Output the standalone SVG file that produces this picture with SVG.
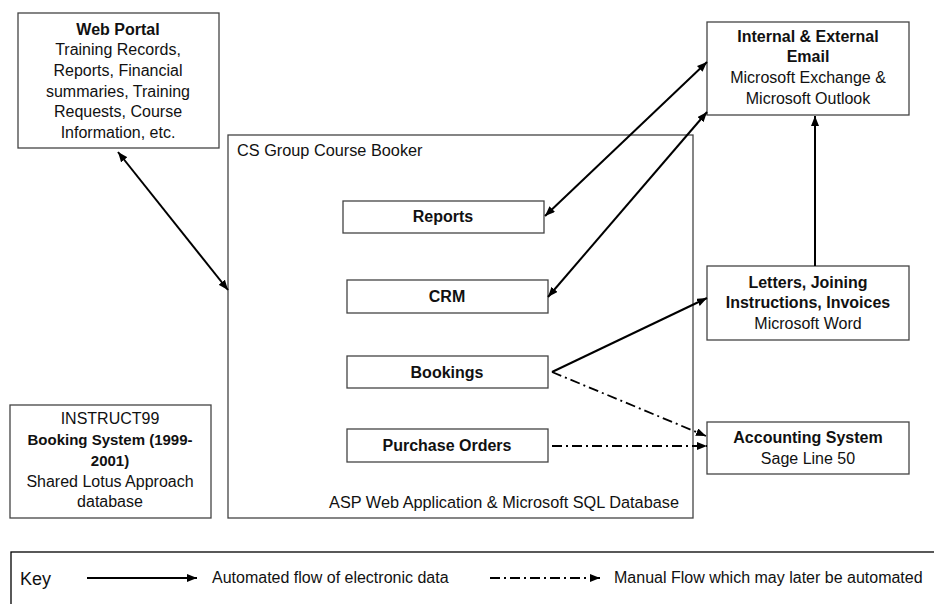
<svg xmlns="http://www.w3.org/2000/svg" width="934" height="604" viewBox="0 0 934 604">
<defs>
<style>
.box{fill:#fff;stroke:#444;stroke-width:1.3}
.t{font-family:"Liberation Sans",Arial,sans-serif;font-size:16px;fill:#111;text-anchor:middle}
.b{font-weight:bold}
.l{text-anchor:start}
.s{fill:none;stroke:#000;stroke-width:2}
.d{fill:none;stroke:#000;stroke-width:1.8;stroke-dasharray:10 4 2 4}
</style>
<marker id="ah" viewBox="0 0 10 8" refX="10" refY="4" markerWidth="10" markerHeight="8" markerUnits="userSpaceOnUse" orient="auto-start-reverse">
<path d="M0,0 L10,4 L0,8 Z" fill="#000"/>
</marker>
</defs>
<rect width="934" height="604" fill="#fff"/>

<g id="container">
<rect class="box" x="228" y="135" width="465" height="383"/>
<text class="t l" x="237" y="156" style="font-size:16.3px">CS Group Course Booker</text>
<text class="t" x="504" y="508" style="font-size:16.3px">ASP Web Application &amp; Microsoft SQL Database</text>
</g>

<g id="web-portal">
<rect class="box" x="18" y="13" width="201" height="135"/>
<text class="t b" x="118" y="35">Web Portal</text>
<text class="t" x="118" y="55">Training Records,</text>
<text class="t" x="118" y="76">Reports, Financial</text>
<text class="t" x="118" y="97">summaries, Training</text>
<text class="t" x="118" y="117">Requests, Course</text>
<text class="t" x="118" y="138">Information, etc.</text>
</g>

<g id="email">
<rect class="box" x="707" y="22" width="202" height="93"/>
<text class="t b" x="808" y="42">Internal &amp; External</text>
<text class="t b" x="808" y="62">Email</text>
<text class="t" x="808" y="83">Microsoft Exchange &amp;</text>
<text class="t" x="808" y="104">Microsoft Outlook</text>
</g>

<g id="reports">
<rect class="box" x="343" y="201" width="201" height="32"/>
<text class="t b" x="443" y="222">Reports</text>
</g>

<g id="crm">
<rect class="box" x="347" y="280" width="201" height="33"/>
<text class="t b" x="447" y="302">CRM</text>
</g>

<g id="bookings">
<rect class="box" x="347" y="356" width="201" height="32"/>
<text class="t b" x="447" y="378">Bookings</text>
</g>

<g id="purchase-orders">
<rect class="box" x="347" y="429" width="201" height="33"/>
<text class="t b" x="447" y="451">Purchase Orders</text>
</g>

<g id="letters">
<rect class="box" x="707" y="266" width="202" height="74"/>
<text class="t b" x="808" y="288">Letters, Joining</text>
<text class="t b" x="808" y="308">Instructions, Invoices</text>
<text class="t" x="808" y="329">Microsoft Word</text>
</g>

<g id="accounting">
<rect class="box" x="707" y="422" width="202" height="52"/>
<text class="t b" x="808" y="443">Accounting System</text>
<text class="t" x="808" y="464">Sage Line 50</text>
</g>

<g id="instruct99">
<rect class="box" x="10" y="405" width="201" height="113"/>
<text class="t" x="110" y="424">INSTRUCT99</text>
<text class="t b" x="110" y="445" style="font-size:15px">Booking System (1999-</text>
<text class="t b" x="110" y="466" style="font-size:15px">2001)</text>
<text class="t" x="110" y="487">Shared Lotus Approach</text>
<text class="t" x="110" y="507">database</text>
</g>

<g id="connectors">
<line class="s" x1="118" y1="152" x2="228" y2="290" marker-start="url(#ah)" marker-end="url(#ah)"/>
<line class="s" x1="545" y1="216" x2="707" y2="62" marker-start="url(#ah)" marker-end="url(#ah)"/>
<line class="s" x1="548" y1="297" x2="707" y2="112" marker-start="url(#ah)" marker-end="url(#ah)"/>
<line class="s" x1="552" y1="372" x2="707" y2="298" marker-end="url(#ah)"/>
<line class="d" x1="552" y1="372" x2="706" y2="436" marker-end="url(#ah)"/>
<line class="d" x1="552" y1="446" x2="707" y2="446" marker-end="url(#ah)"/>
<line class="s" x1="815" y1="266" x2="815" y2="116" marker-end="url(#ah)"/>
</g>

<g id="key">
<rect x="11" y="552" width="930" height="60" fill="none" stroke="#000" stroke-width="1.3"/>
<text class="t l" x="20" y="585" style="font-size:18px">Key</text>
<line class="s" x1="87" y1="578" x2="197" y2="578" marker-end="url(#ah)"/>
<text class="t l" x="212" y="583">Automated flow of electronic data</text>
<line class="d" x1="490" y1="578" x2="600" y2="578" marker-end="url(#ah)"/>
<text class="t l" x="614" y="583">Manual Flow which may later be automated</text>
</g>
</svg>
